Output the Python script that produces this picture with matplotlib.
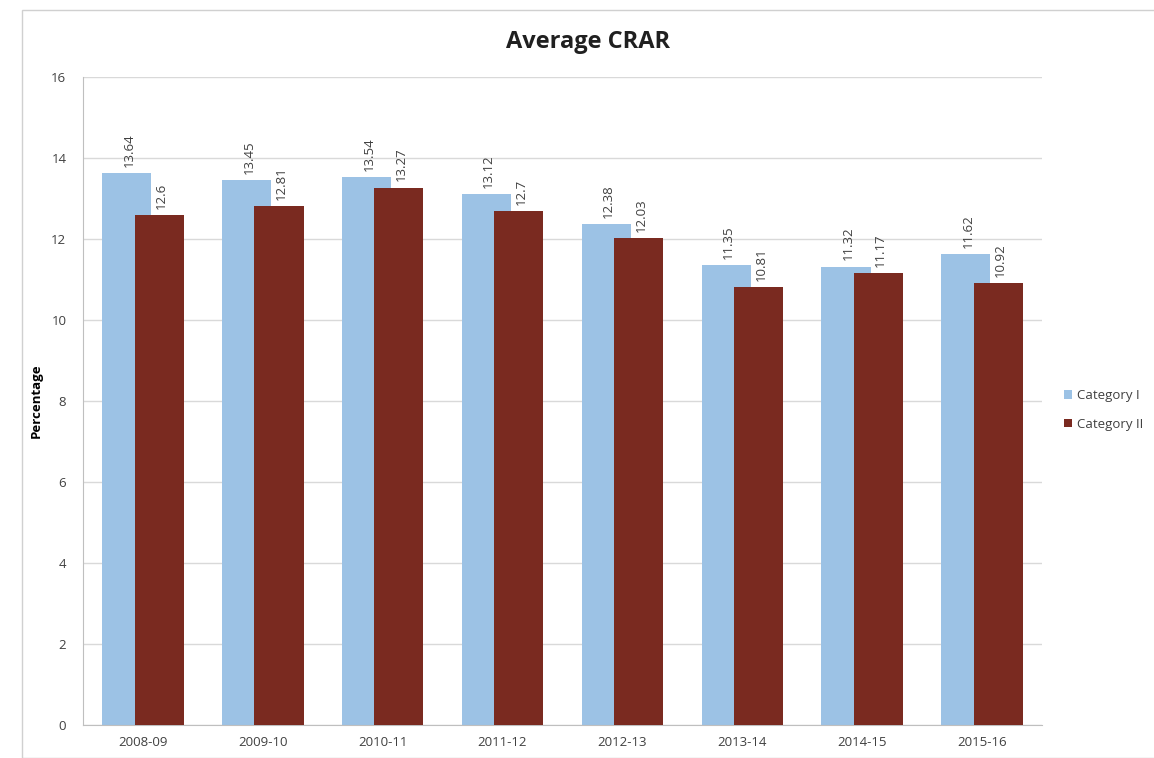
import matplotlib.pyplot as plt
import numpy as np
from matplotlib.patches import Rectangle

years = ['2008-09', '2009-10', '2010-11', '2011-12',
         '2012-13', '2013-14', '2014-15', '2015-16']
cat1 = [13.64, 13.45, 13.54, 13.12, 12.38, 11.35, 11.32, 11.62]
cat2 = [12.6, 12.81, 13.27, 12.7, 12.03, 10.81, 11.17, 10.92]
series_names = ['Category I', 'Category II']
yticks = [0, 2, 4, 6, 8, 10, 12, 14, 16]


def main():
    plt.rcParams['font.family'] = ['Open Sans', 'DejaVu Sans']
    fig = plt.figure(figsize=(11.54, 7.58), dpi=100)
    ax = fig.add_axes([83 / 1154, 33 / 758, 959 / 1154, 648 / 758])

    # chart area border
    fig.patches.append(Rectangle((22 / 1154, 0), 1.1, 748 / 758,
                                 transform=fig.transFigure, fill=False,
                                 edgecolor='#d0d0d0', linewidth=1))

    x = np.arange(len(years))
    w = 0.41
    off = 0.135
    b1 = ax.bar(x - off, cat1, w, color='#9cc2e5', label=series_names[0],
                zorder=2)
    b2 = ax.bar(x + off, cat2, w, color='#7a2a20', label=series_names[1],
                zorder=3)

    for bars, vals in ((b1, cat1), (b2, cat2)):
        for bar, v in zip(bars, vals):
            ax.text(bar.get_x() + bar.get_width() / 2 + 0.02, v + 0.15,
                    f'{v:g}', rotation=90, ha='center', va='bottom',
                    fontsize=9.5, color='#404040', zorder=4)

    ax.set_xlim(-0.5, len(years) - 0.5)
    ax.set_ylim(0, 16)
    ax.set_yticks(yticks)
    ax.set_xticks(x)
    ax.set_xticklabels(years)
    ax.tick_params(axis='both', length=0, labelsize=9.5, colors='#404040')
    ax.tick_params(axis='y', pad=12)
    ax.tick_params(axis='x', pad=8)
    ax.grid(axis='y', color='#d9d9d9', linewidth=1, zorder=0)
    for side in ('top', 'right'):
        ax.spines[side].set_visible(False)
    ax.spines['left'].set_color('#bfbfbf')
    ax.spines['bottom'].set_color('#bfbfbf')

    ax.set_ylabel('Percentage', fontsize=9.5, fontweight='bold', labelpad=6)
    fig.text(588 / 1154, 1 - 42 / 758, 'Average CRAR', ha='center',
             va='center', fontsize=17, fontweight='bold', color='#202020')

    fig.legend(handles=[b1, b2], loc='center left',
               bbox_to_anchor=(1052 / 1154, 1 - 410 / 758), frameon=False,
               fontsize=9.5, handlelength=0.6, handleheight=0.6,
               handletextpad=0.4, labelspacing=1.2, labelcolor='#404040')

    fig.savefig('out.png', dpi=100, facecolor='white')


if __name__ == '__main__':
    main()
